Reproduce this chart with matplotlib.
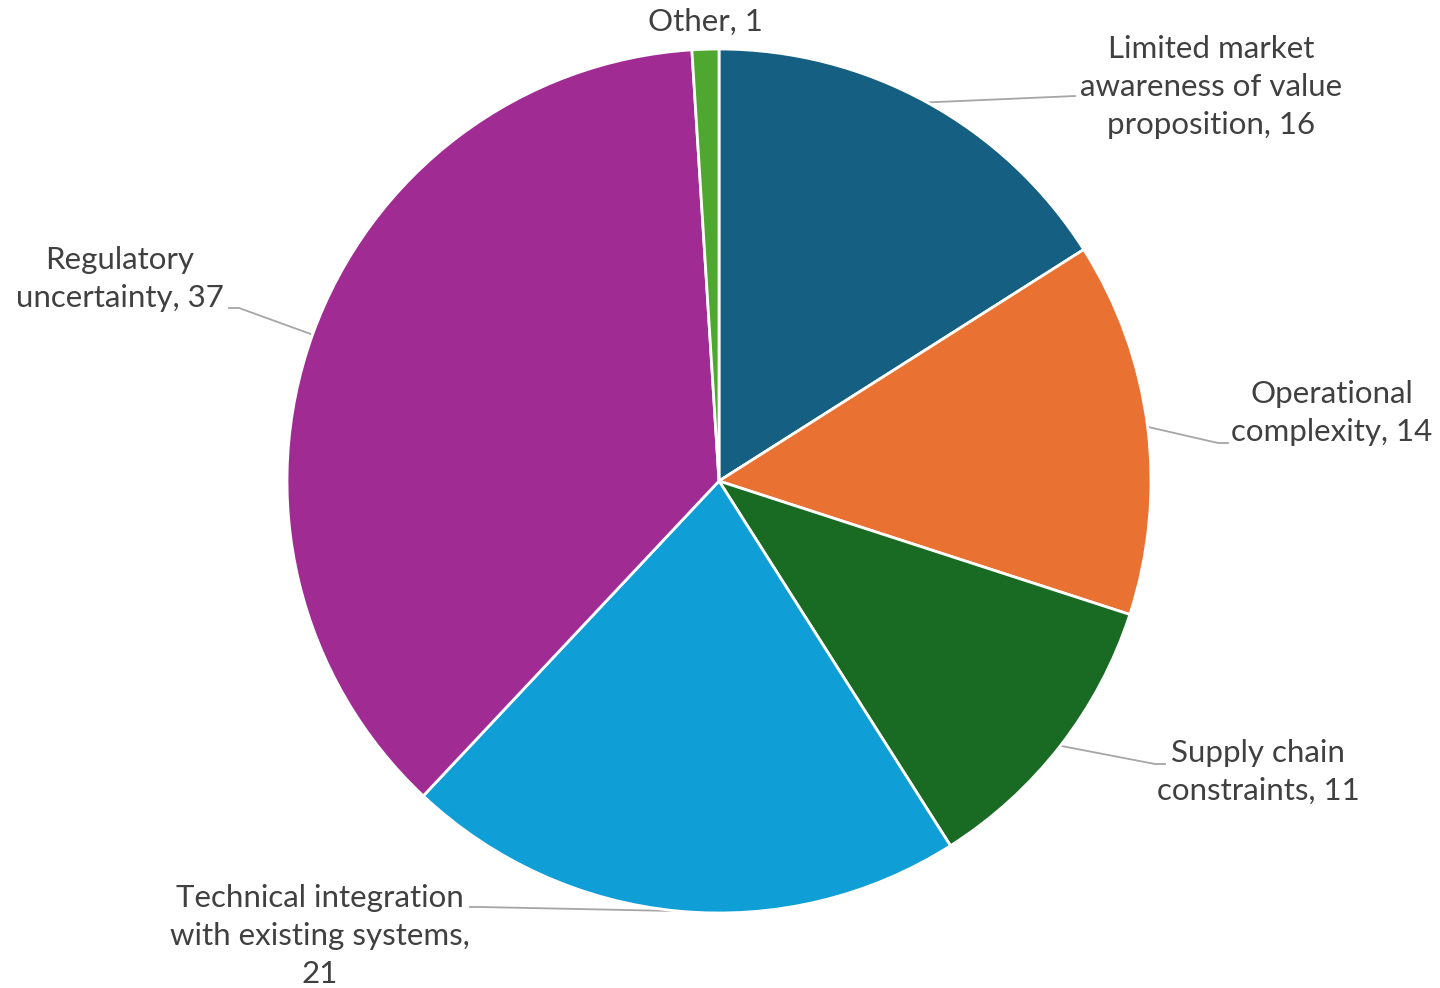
import matplotlib.pyplot as plt
import numpy as np

plt.rcParams['font.family'] = ['Lato', 'DejaVu Sans']

# Slice data (clockwise from 12 o'clock)
labels = ['Limited market\nawareness of value\nproposition', 'Operational\ncomplexity',
          'Supply chain\nconstraints', 'Technical integration\nwith existing systems,\n',
          'Regulatory\nuncertainty', 'Other']
values = [16, 14, 11, 21, 37, 1]
colors = ['#156082', '#E97132', '#196B24', '#0F9ED5', '#A02B93', '#4EA72E']

W, H = 1440, 988
fig = plt.figure(figsize=(14.4, 9.88), dpi=100)
ax = fig.add_axes([0, 0, 1, 1])

cx, cy, r = 719, H - 481, 432
wedges, _ = ax.pie(values, colors=colors, startangle=90, counterclock=False,
                   center=(cx, cy), radius=r, frame=True,
                   wedgeprops=dict(edgecolor='white', linewidth=2))
ax.set_xlim(0, W)
ax.set_ylim(0, H)
ax.set_aspect('equal')
ax.axis('off')

# label text centre (px, from top), elbow point, line end (px, from top)
label_pos = [(1211, 87), (1332, 413), (1258, 772), (320, 936), (120, 279), (705, 22)]
elbows = [None, (1218, 443), (1155, 764), (480, 907), (239, 308), None]
ends = [(1075, 96), (1228, 443), (1165, 764), (470, 907), (229, 308), None]

for w, lab, v, pos, elb, end in zip(wedges, labels, values, label_pos, elbows, ends):
    if lab.endswith('\n'):
        txt = lab + str(v)
    else:
        txt = f'{lab}, {v}'
    ax.text(pos[0], H - pos[1], txt, ha='center', va='center', fontsize=22.5,
            color='#404040', linespacing=1.43)
    if end is None:
        continue
    ang = np.deg2rad((w.theta1 + w.theta2) / 2)
    sx, sy = cx + r * np.cos(ang), cy + r * np.sin(ang)
    xs, ys = [sx], [sy]
    if elb is not None:
        xs.append(elb[0]); ys.append(H - elb[1])
    xs.append(end[0]); ys.append(H - end[1])
    ax.plot(xs, ys, color='#A6A6A6', lw=1.3, zorder=0)

fig.savefig('out.png', dpi=100)
